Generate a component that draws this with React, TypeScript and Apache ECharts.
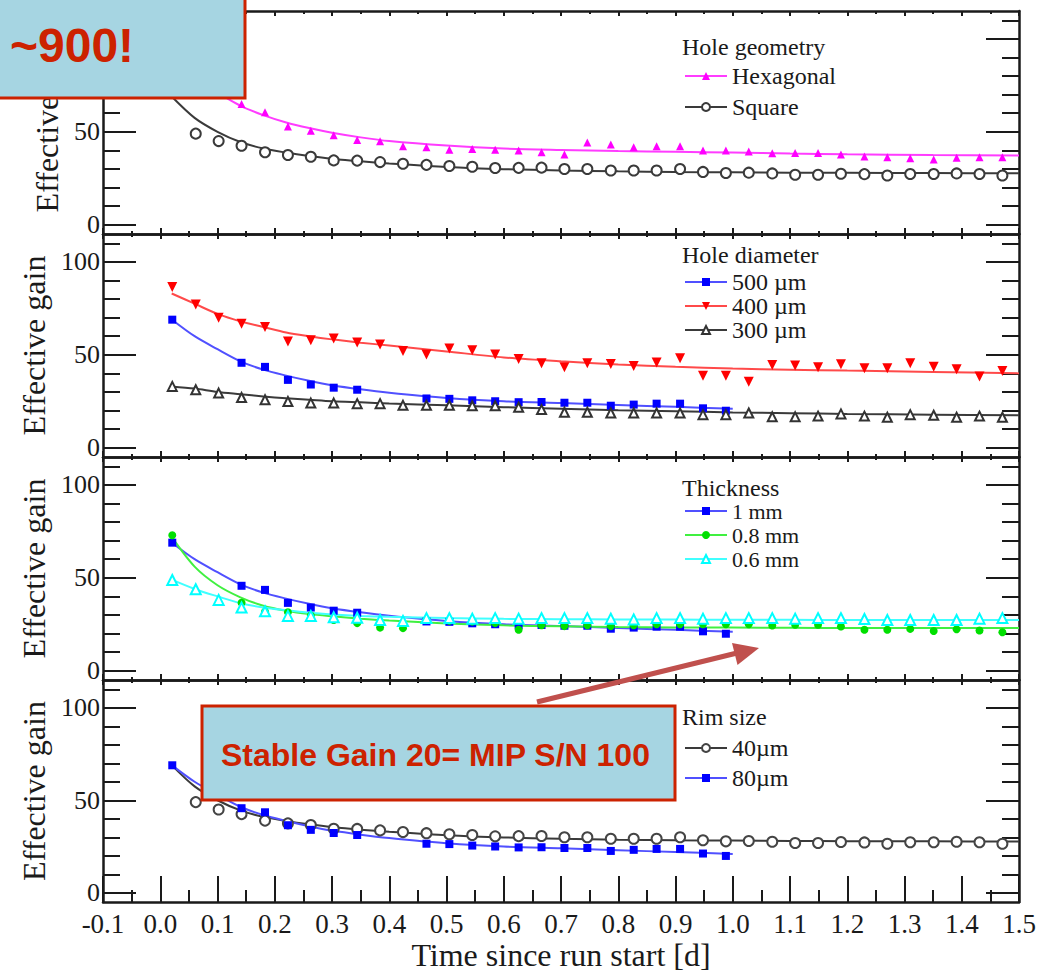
import React, { useEffect, useRef } from "react";
import * as echarts from "echarts";

// ---------------- data ----------------
const timeDays = [
  0.021, 0.062, 0.102, 0.142, 0.183, 0.223, 0.263, 0.303, 0.344, 0.384, 0.424, 0.465,
  0.505, 0.545, 0.585, 0.626, 0.666, 0.706, 0.746, 0.787, 0.827, 0.867, 0.908, 0.948,
  0.988, 1.028, 1.069, 1.109, 1.149, 1.189, 1.23, 1.27, 1.31, 1.351, 1.391, 1.431, 1.471,
];

const hexagonalGain = [
  90, 80, 72, 65, 60.5, 52.8, 50.5, 48.2, 45.6, 44.9, 42.2, 41.7, 40.3, 40.8, 40.3, 39.9,
  39, 37.8, 44.3, 43.1, 41.7, 42.2, 42.2, 39.9, 39.9, 39.4, 38.5, 38.6, 38.6, 37.8, 36.7,
  36.3, 35.8, 35.1, 36, 36.3, 36.3,
];
const squareGain = [
  null, 49, 45, 42.5, 39, 37.5, 36.6, 34.6, 34.5, 33.7, 32.8, 32.2, 31.6, 31.2, 30.5, 30.6,
  30.7, 30, 30, 29.2, 29.2, 29.2, 30, 28.4, 27.8, 28, 27.6, 26.9, 26.9, 27.4, 27.2, 26.5,
  27.3, 27.3, 27.6, 27.3, 26.5,
];
const gain500um = [
  68.9, null, null, 45.7, 43.5, 36.5, 34, 32.3, 31.2, null, null, 26.5, 26.3, 25.5, 25,
  24.5, 24.6, 24.2, 24.2, 22.6, 23.2, 23.7, 23.7, 21.2, 19.9,
];
const gain400um = [
  86.5, 77, 70, 66.7, 65, 57.2, 57.8, 58.7, 56.6, 55.5, 52, 50.2, 53.4, 52.5, 50.2, 47.7,
  45.4, 43.3, 45.4, 45, 44, 45.9, 48.1, 38.7, 38.7, 35.5, 44.5, 44.2, 43.3, 44.9, 42.7,
  42.7, 45.4, 43.6, 42.2, 38.3, 41.3,
];
const gain300um = [
  33, 31.2, 29.4, 27, 25.8, 24.9, 24, 24, 23.7, 23.7, 22.8, 22.8, 22.8, 22.6, 22.6, 21.8,
  20.5, 19.1, 19.1, 18.7, 18.7, 18.7, 18.7, 17.8, 17.8, 18.7, 16.6, 16.6, 17, 18.2, 17,
  16.4, 17.8, 17.5, 16.4, 17, 16.4,
];
const gain1mm = gain500um;
const gain08mm = [
  72.9, null, null, 36.6, 31.8, 31.5, 29.7, 27.3, 25.6, 23.2, 22.9, 27.3, 26.8, 26.4, 25.6,
  22, 24.5, 24, 24.5, 24, 24.5, 25, 25, 25, 25, 25, 24.3, 24.7, 24.7, 23.8, 22, 22, 22.5,
  21.4, 22.3, 21.6, 20.7,
];
const gain06mm = [
  48.8, 43.8, 38.1, 34, 32, 29.5, 29.5, 28.8, 28.5, 27.3, 26.8, 28.3, 28.3, 28, 28.3, 28,
  28.3, 28.3, 28.3, 28, 27.6, 28.3, 28.3, 28, 28.3, 28.3, 28.3, 28, 28.3, 28.3, 27.8, 27.3,
  27.3, 27.3, 27.3, 28, 28.3,
];
const gain40um = squareGain;
const gain80um = gain500um;

const fitTimes = [
  0.02, 0.06, 0.1, 0.14, 0.18, 0.22, 0.26, 0.3, 0.35, 0.4, 0.5, 0.6, 0.7, 0.8, 0.9, 1.0,
  1.1, 1.2, 1.35, 1.5,
];
const hexagonalFit = [88, 78, 71, 64, 59, 55, 52, 49.5, 47, 45, 42.6, 41, 40.2, 39.6, 39.2, 38.8, 38.3, 37.9, 37.5, 37.2];
const squareFit = [69, 57.5, 50, 44.5, 41, 38.8, 37, 35.5, 34.1, 33, 31.1, 29.9, 29.2, 28.7, 28.4, 28.2, 28, 27.9, 27.8, 27.7];
const fit500um = [69, 60, 53, 46.5, 42, 38.8, 36, 33.6, 31.4, 29.6, 26.8, 25, 24, 23, 22, 21, null, null, null, null];
const fit400um = [83, 77.5, 72, 68, 65, 62, 60, 58.3, 56.5, 55, 51.8, 48.6, 46.5, 44.8, 43.5, 42.6, 42, 41.5, 40.8, 40];
const fit300um = [33, 31.8, 30, 28.8, 27.6, 26.6, 25.8, 25, 24.4, 23.8, 22.8, 21.8, 21, 20.2, 19.6, 19, 18.6, 18.2, 17.8, 17.4];
const fit1mm = fit500um;
const fit08mm = [72, 56, 46, 39.5, 35, 32.3, 30.5, 29.3, 28, 27, 25.4, 24.4, 23.9, 23.5, 23.3, 23.2, 23.1, 23, 23, 23];
const fit06mm = [49, 44, 40, 36.3, 34, 32.5, 31.2, 30.3, 29.5, 29, 28.3, 27.9, 27.7, 27.6, 27.5, 27.4, 27.4, 27.3, 27.3, 27.3];
const fit40um = squareFit;
const fit80um = fit500um;

const yMajorTicks = [0, 50, 100];
const yMinorTicks = [10, 20, 30, 40, 60, 70, 80, 90, 110];
const yTickLabelsTop = [0, 50]; // "100" of the top panel sits under the annotation box
const panelTitles = ["Hole geometry", "Hole diameter", "Thickness", "Rim size"];

// ---------------- styling / layout ----------------
const SERIF = '"Liberation Serif", "DejaVu Serif", serif';
const SANS = '"Liberation Sans", Arial, sans-serif';
const INK = "#1a1a1a";
const panelTops = [11, 234, 457, 680];
const GRID_LEFT = 103;
const GRID_W = 916;
const GRID_H = 223;

type Entry = {
  name: string;
  data: (number | null)[];
  fit: (number | null)[];
  color: string;
  fitColor: string;
  symbol: string;
  size: number;
  rotate?: number;
};

const panels: {
  titleY: number; legendTop: number; legendGap: number; legendFont: number;
  labels: number[]; entries: Entry[];
}[] = [
  {
    titleY: 47, legendTop: 64, legendGap: 7, legendFont: 24, labels: yTickLabelsTop,
    entries: [
      { name: "Hexagonal", data: hexagonalGain, fit: hexagonalFit, color: "#ff00ff", fitColor: "#ff3cff", symbol: "triangle", size: 8 },
      { name: "Square", data: squareGain, fit: squareFit, color: "#3a3a3a", fitColor: "#3a3a3a", symbol: "emptyCircle", size: 10 },
    ],
  },
  {
    titleY: 255, legendTop: 270, legendGap: 0, legendFont: 24, labels: yMajorTicks,
    entries: [
      { name: "500 µm", data: gain500um, fit: fit500um, color: "#0000ff", fitColor: "#5050ff", symbol: "rect", size: 8 },
      { name: "400 µm", data: gain400um, fit: fit400um, color: "#ff0000", fitColor: "#ff4a4a", symbol: "triangle", size: 10, rotate: 180 },
      { name: "300 µm", data: gain300um, fit: fit300um, color: "#333333", fitColor: "#3a3a3a", symbol: "emptyTriangle", size: 9 },
    ],
  },
  {
    titleY: 488, legendTop: 500, legendGap: 2, legendFont: 22, labels: yMajorTicks,
    entries: [
      { name: "1 mm", data: gain1mm, fit: fit1mm, color: "#0000ff", fitColor: "#5050ff", symbol: "rect", size: 8 },
      { name: "0.8 mm", data: gain08mm, fit: fit08mm, color: "#00e000", fitColor: "#40f040", symbol: "circle", size: 8 },
      { name: "0.6 mm", data: gain06mm, fit: fit06mm, color: "#00ffff", fitColor: "#40ffff", symbol: "emptyTriangle", size: 10 },
    ],
  },
  {
    titleY: 717, legendTop: 736, legendGap: 6, legendFont: 24, labels: yMajorTicks,
    entries: [
      { name: "40µm", data: gain40um, fit: fit40um, color: "#444444", fitColor: "#3a3a3a", symbol: "emptyCircle", size: 10 },
      { name: "80µm", data: gain80um, fit: fit80um, color: "#0000ff", fitColor: "#5050ff", symbol: "rect", size: 8 },
    ],
  },
];

function toPoints(values: (number | null)[]) {
  const out: number[][] = [];
  values.forEach((v, i) => {
    if (v != null && timeDays[i] != null) out.push([timeDays[i], v]);
  });
  return out;
}
function toFitPoints(values: (number | null)[]) {
  const out: number[][] = [];
  values.forEach((v, i) => {
    if (v != null) out.push([fitTimes[i], v]);
  });
  return out;
}

function buildOption() {
  const grid: any[] = [];
  const xAxis: any[] = [];
  const yAxis: any[] = [];
  const series: any[] = [];
  const legend: any[] = [];
  const graphic: any[] = [];
  const axisLine = { show: true, onZero: false, lineStyle: { color: INK, width: 2.5 } };
  const tickLine = { color: INK, width: 2 };

  panels.forEach((p, k) => {
    const isLast = k === panels.length - 1;
    grid.push({ left: GRID_LEFT, top: panelTops[k], width: GRID_W, height: GRID_H });
    // bottom x axis
    xAxis.push({
      gridIndex: k, type: "value", position: "bottom", min: -0.1, max: 1.5, interval: 0.1,
      axisLine,
      axisTick: { show: true, inside: true, length: isLast ? 26 : 6, lineStyle: tickLine },
      minorTick: { show: true, splitNumber: 2, length: isLast ? 12 : 3, lineStyle: tickLine },
      splitLine: { show: false }, minorSplitLine: { show: false },
      axisLabel: {
        show: isLast, margin: 8, fontSize: 27, fontFamily: SERIF, color: INK,
        formatter: (v: number) => v.toFixed(1),
      },
      name: isLast ? "Time since run start [d]" : "",
      nameLocation: "middle", nameGap: 37,
      nameTextStyle: { fontSize: 32, fontFamily: SERIF, color: INK },
    });
    // top x axis
    xAxis.push({
      gridIndex: k, type: "value", position: "top", min: -0.1, max: 1.5, interval: 0.1,
      axisLine,
      axisTick: { show: true, inside: true, length: 5, lineStyle: tickLine },
      minorTick: { show: true, splitNumber: 2, length: 3, lineStyle: tickLine },
      splitLine: { show: false }, minorSplitLine: { show: false },
      axisLabel: { show: false },
    });
    const yBase = { gridIndex: k, type: "value", min: -5, max: 115, splitLine: { show: false } };
    // left major (with labels + name)
    yAxis.push({
      ...yBase, position: "left", axisLine,
      axisTick: { show: true, inside: true, length: 33, customValues: yMajorTicks, lineStyle: tickLine },
      axisLabel: { show: true, customValues: p.labels, margin: 3, fontSize: 26, fontFamily: SERIF, color: INK },
      name: "Effective gain", nameLocation: "middle", nameGap: 30, nameRotate: 90,
      nameTextStyle: { fontSize: 32, fontFamily: SERIF, color: INK },
    });
    // left minor
    yAxis.push({
      ...yBase, position: "left", axisLine: { show: false, onZero: false },
      axisTick: { show: true, inside: true, length: 17, customValues: yMinorTicks, lineStyle: tickLine },
      axisLabel: { show: false },
    });
    // right major
    yAxis.push({
      ...yBase, position: "right", axisLine,
      axisTick: { show: true, inside: true, length: 33, customValues: yMajorTicks, lineStyle: tickLine },
      axisLabel: { show: false },
    });
    // right minor
    yAxis.push({
      ...yBase, position: "right", axisLine: { show: false, onZero: false },
      axisTick: { show: true, inside: true, length: 17, customValues: yMinorTicks, lineStyle: tickLine },
      axisLabel: { show: false },
    });

    p.entries.forEach((e) => {
      const empty = e.symbol.indexOf("empty") === 0;
      series.push({
        name: e.name + " fit", type: "line", xAxisIndex: 2 * k, yAxisIndex: 4 * k,
        data: toFitPoints(e.fit), symbol: "none", smooth: 0.3,
        lineStyle: { color: e.fitColor, width: 2 }, color: e.fitColor, z: 2, silent: true,
      });
      series.push({
        name: e.name, type: "line", xAxisIndex: 2 * k, yAxisIndex: 4 * k,
        data: toPoints(e.data), symbol: e.symbol, symbolSize: e.size,
        symbolRotate: e.rotate || 0, showSymbol: true, showAllSymbol: true,
        color: e.color,
        itemStyle: { color: e.color, borderWidth: empty ? 1.5 : 0 },
        lineStyle: { width: 0, color: e.fitColor }, z: 3, silent: true,
      });
    });

    legend.push({
      orient: "vertical", left: 684, top: p.legendTop, itemWidth: 42, itemHeight: 10,
      itemGap: p.legendGap, selectedMode: false, padding: 0,
      textStyle: { fontFamily: SERIF, fontSize: p.legendFont, color: INK },
      data: p.entries.map((e) => ({
        name: e.name,
        lineStyle: { color: e.fitColor, width: 2, opacity: 1 },
        itemStyle: { color: e.color, opacity: 1 },
      })),
    });

    graphic.push({
      type: "text", left: 682, top: p.titleY - 12, z: 10,
      style: { text: panelTitles[k], font: `24px ${SERIF}`, fill: INK },
    });
  });

  // annotation boxes and arrow
  graphic.push(
    {
      type: "rect", z: 100, shape: { x: -5, y: -5, width: 250, height: 103 },
      style: { fill: "#a6d5e2", stroke: "#cc2200", lineWidth: 3 },
    },
    {
      type: "text", z: 101, x: 10, y: 45,
      style: { text: "~900!", font: `bold 48px ${SANS}`, fill: "#cc2200", textVerticalAlign: "middle" },
    },
    {
      type: "rect", z: 100, shape: { x: 202, y: 706, width: 473, height: 94 },
      style: { fill: "#a6d5e2", stroke: "#cc2200", lineWidth: 3 },
    },
    {
      type: "text", z: 101, x: 221, y: 755,
      style: { text: "Stable Gain 20= MIP S/N 100", font: `bold 32px ${SANS}`, fill: "#cc2200", textVerticalAlign: "middle" },
    },
    {
      type: "line", z: 102, shape: { x1: 537, y1: 702, x2: 737, y2: 653 },
      style: { stroke: "#c0504d", lineWidth: 5 },
    },
    {
      type: "polygon", z: 102, shape: { points: [[759, 648], [732, 643], [737.5, 665]] },
      style: { fill: "#c0504d" },
    }
  );

  return {
    animation: false,
    backgroundColor: "#ffffff",
    grid, xAxis, yAxis, series, legend, graphic,
  };
}

export default function App() {
  const ref = useRef<HTMLDivElement>(null);
  useEffect(() => {
    if (!ref.current) return;
    const chart = echarts.init(ref.current, undefined, { renderer: "svg" });
    chart.setOption(buildOption() as any);
    return () => chart.dispose();
  }, []);
  return (
    <div
      ref={ref}
      style={{ position: "absolute", left: 0, top: 0, width: 1040, height: 972, background: "#fff" }}
    />
  );
}
